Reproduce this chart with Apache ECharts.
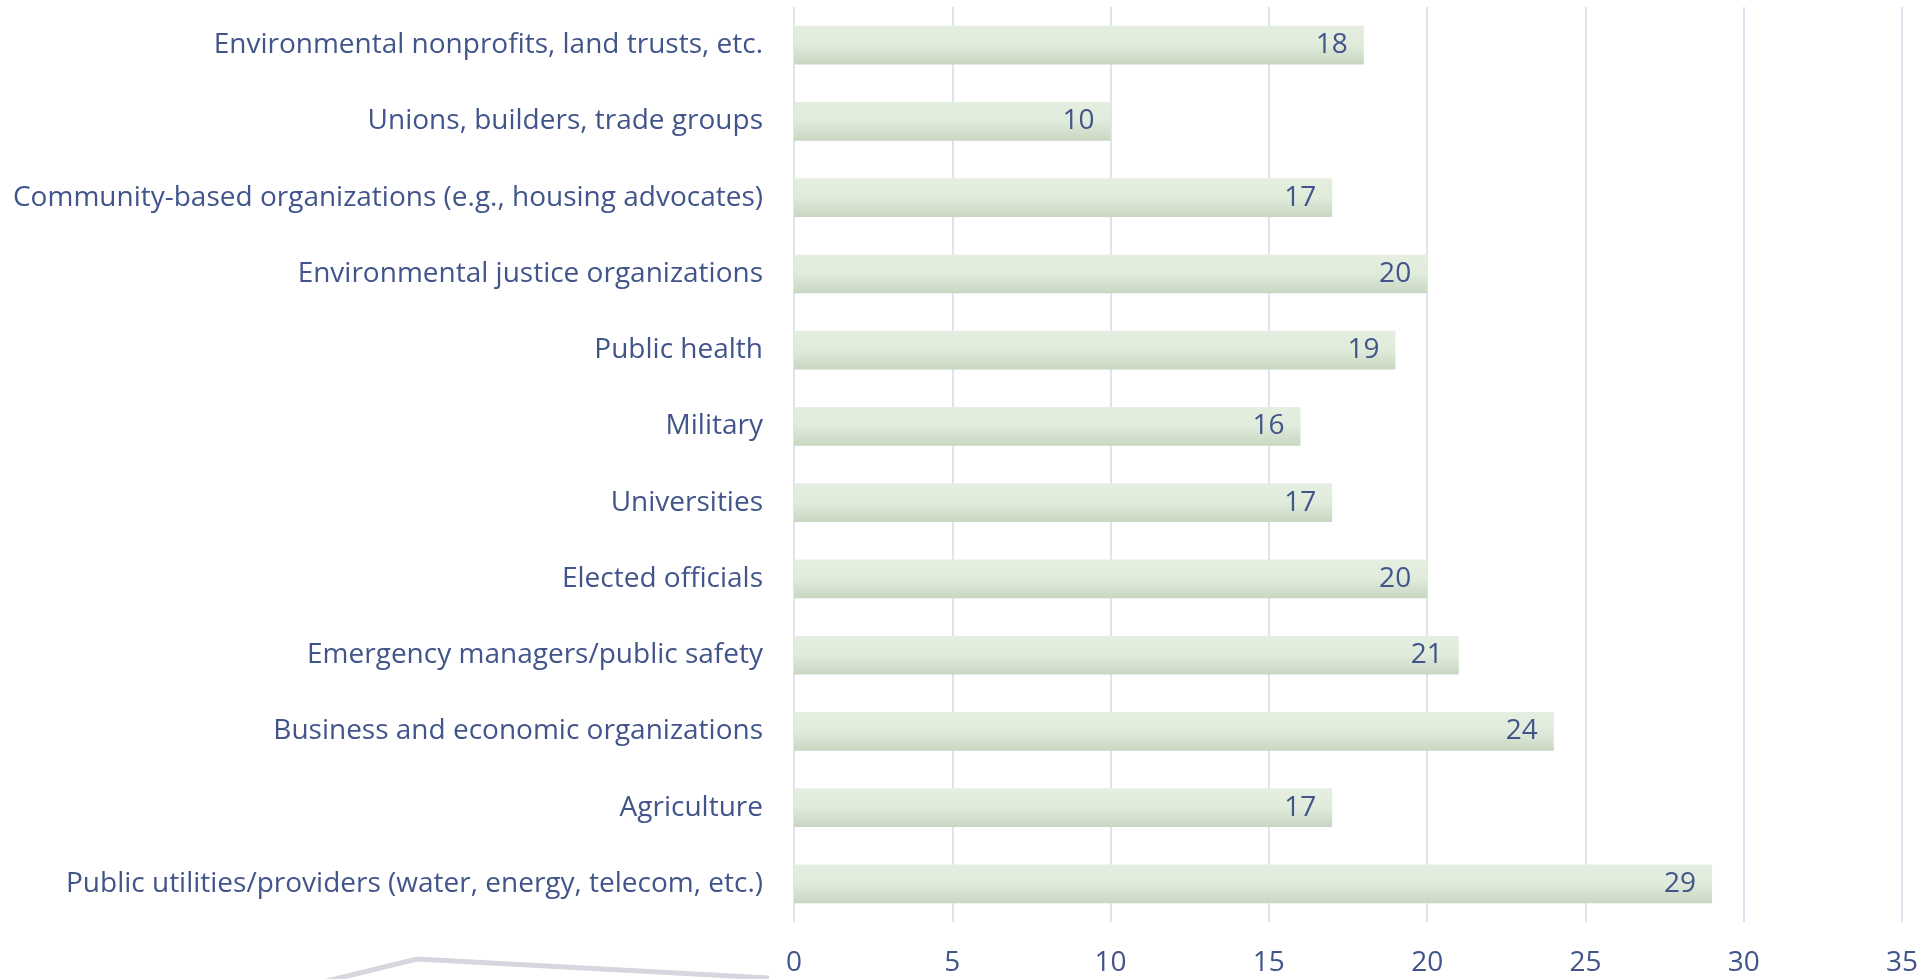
<!DOCTYPE html>
<html><head><meta charset="utf-8">
<script src="https://cdn.jsdelivr.net/npm/echarts@6/dist/echarts.min.js"></script>
<style>html,body{margin:0;padding:0;background:#fff}#c{width:1921px;height:979px}</style>
</head><body><div id="c"></div>
<script>
const categories = [
  "Public utilities/providers (water, energy, telecom, etc.)",
  "Agriculture",
  "Business and economic organizations",
  "Emergency managers/public safety",
  "Elected officials",
  "Universities",
  "Military",
  "Public health",
  "Environmental justice organizations",
  "Community-based organizations (e.g., housing advocates)",
  "Unions, builders, trade groups",
  "Environmental nonprofits, land trusts, etc."
];
const values = [29, 17, 24, 21, 20, 17, 16, 19, 20, 17, 10, 18];
const xTicks = [0, 5, 10, 15, 20, 25, 30, 35];

const textColor = '#42558a';
const font = '"Open Sans", Lato, sans-serif';
const chart = echarts.init(document.getElementById('c'));
chart.setOption({
  animation: false,
  grid: {left: 794, right: 18, top: 7, bottom: 57, containLabel: false},
  xAxis: {
    type: 'value', min: xTicks[0], max: xTicks[xTicks.length-1], interval: 5,
    axisLine: {show: false}, axisTick: {show: false},
    splitLine: {lineStyle: {color: '#dfe3ef', width: 2}},
    axisLabel: {color: textColor, fontSize: 28, fontFamily: font, margin: 27}
  },
  yAxis: {
    type: 'category', data: categories,
    axisLine: {show: false}, axisTick: {show: false},
    axisLabel: {color: textColor, fontSize: 28, fontFamily: font, margin: 31}
  },
  series: [{
    type: 'bar', data: values, barCategoryGap: '49%',
    itemStyle: {color: new echarts.graphic.LinearGradient(0, 0, 0, 1, [
      {offset: 0, color: '#e5efe1'}, {offset: 0.5, color: '#e0ebdb'}, {offset: 1, color: '#c8d6c1'}
    ])},
    label: {show: true, position: 'insideRight', distance: 16, color: textColor, fontSize: 28, fontFamily: font}
  }],
  graphic: [{
    type: 'polyline', silent: true,
    shape: {points: [[327, 981], [417, 959], [769, 978]]},
    style: {stroke: '#d8d5df', lineWidth: 5, fill: null}
  }]
});
</script></body></html>
